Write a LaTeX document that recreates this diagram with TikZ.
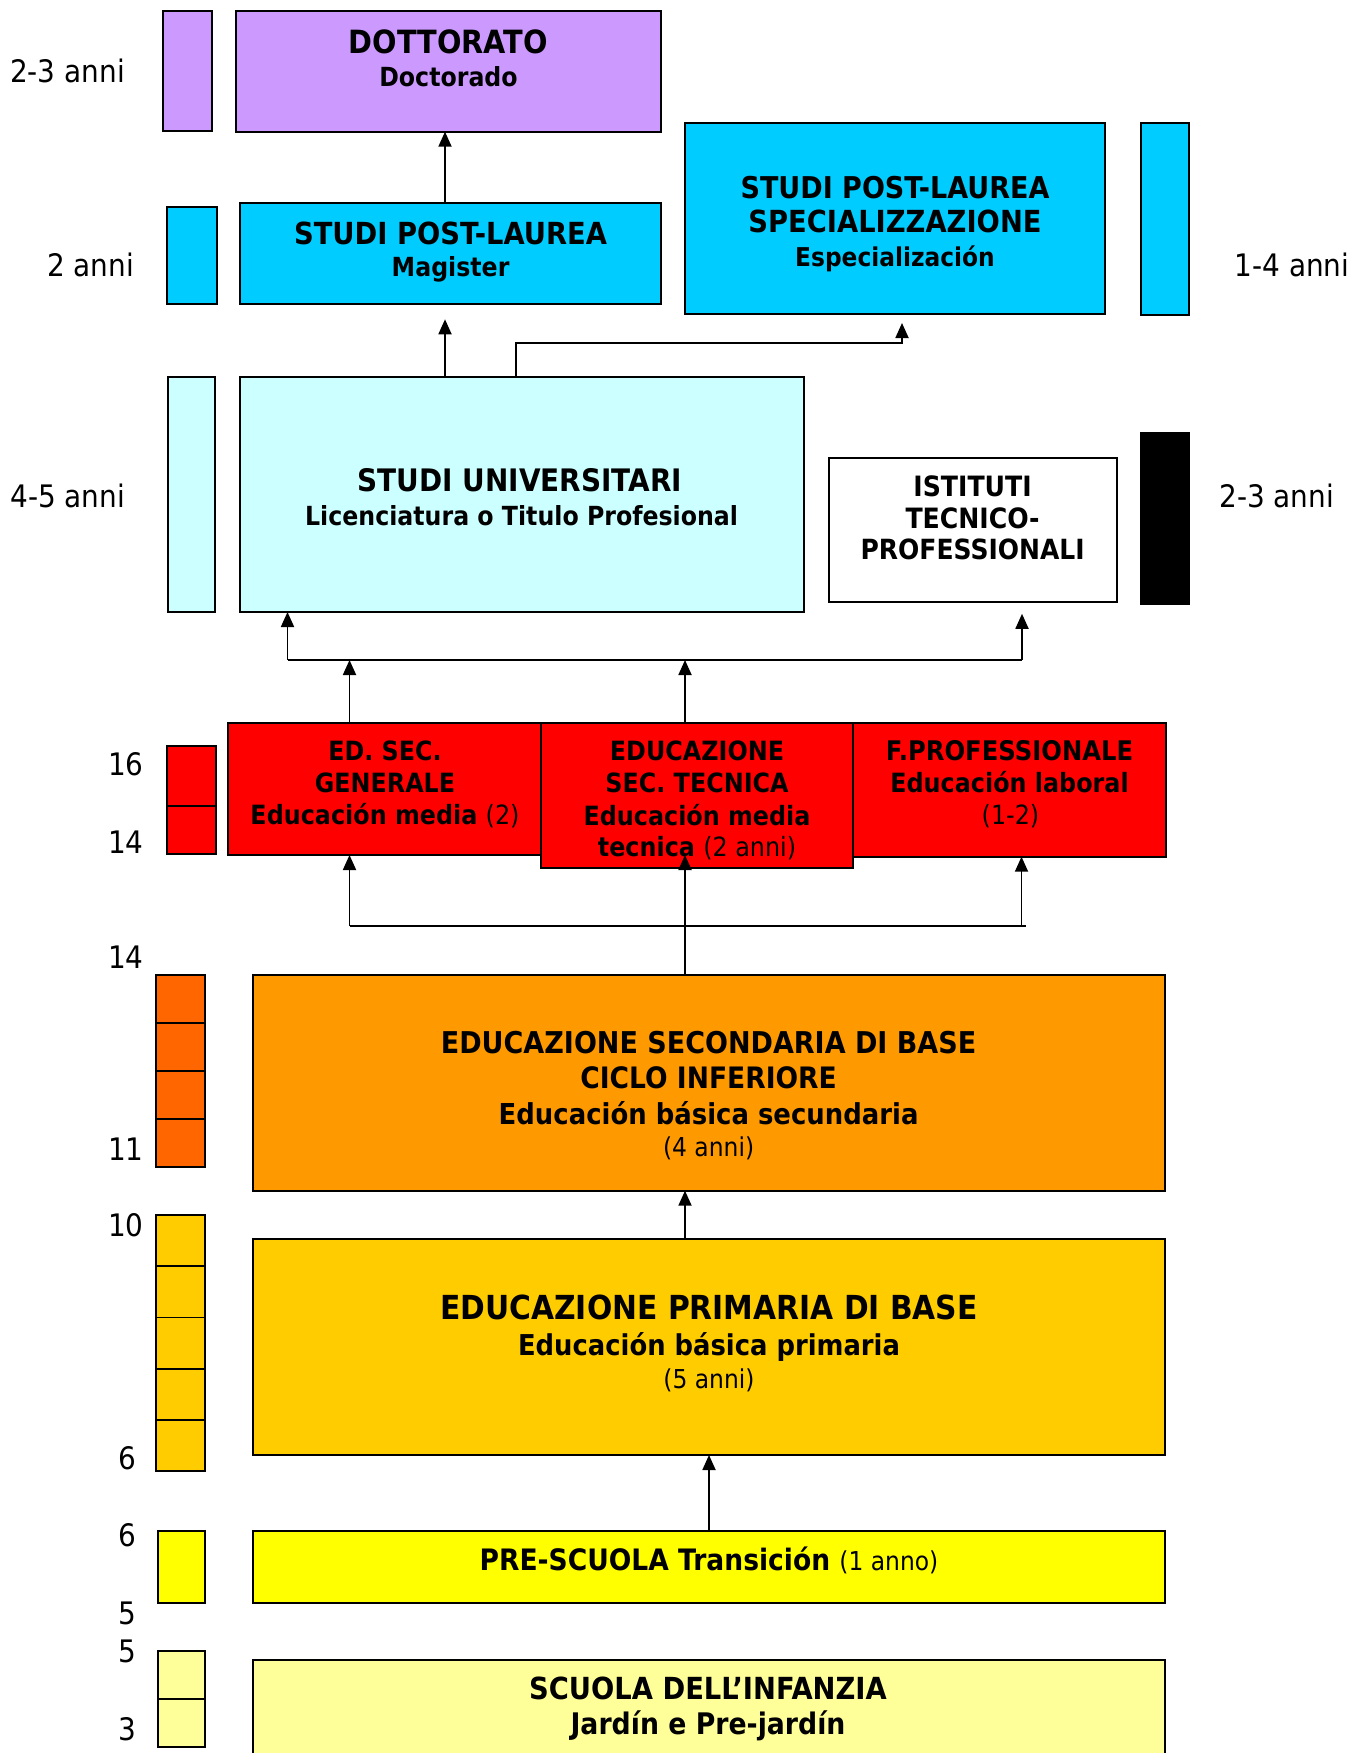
\documentclass[tikz,border=0pt]{standalone}
\usepackage{fontspec}
\setmainfont{DejaVu Sans}[FakeStretch=0.9]
\usetikzlibrary{arrows.meta,calc}
\definecolor{lav}{HTML}{CC99FF}
\definecolor{cyn}{HTML}{00CCFF}
\definecolor{lcyn}{HTML}{CCFFFF}
\definecolor{rd}{HTML}{FF0000}
\definecolor{obar}{HTML}{FF6600}
\definecolor{obox}{HTML}{FF9900}
\definecolor{gld}{HTML}{FFCC00}
\definecolor{ylw}{HTML}{FFFF00}
\definecolor{lylw}{HTML}{FFFF99}
\tikzset{
  boxst/.style={draw=black, line width=2pt, inner sep=0pt, outer sep=0pt},
  tl/.style={anchor=base, inner sep=0pt, outer sep=0pt},
  arr/.style={line width=1.8pt, -{Triangle[length=15pt,width=13pt]}},
  conn/.style={line width=1.8pt},
  cellline/.style={line width=1.8pt}
}
\newcommand\bx[6]{\node[boxst, fill=#6, minimum width={#4-#2}, minimum height={#5-#3}] (#1) at ({(#2+#4)/2},{(#3+#5)/2}) {};}
\newcommand\tl[5]{\node[tl, font=\fontsize{#4}{#4}\selectfont] (#1) at (#2,#3) {#5};}
\newcommand\cells[2]{\foreach \k in {1,...,#2} {\pgfmathsetmacro\fr{\k/(#2+1)}\draw[cellline] ($(#1.north west)!\fr!(#1.south west)$) -- ($(#1.north east)!\fr!(#1.south east)$);}}
\begin{document}
\begin{tikzpicture}[x=1pt,y=-1pt]
\useasboundingbox[fill=white] (0,0) rectangle (1369,1753);
% boxes
\bx{dbar}{163}{11}{212}{131}{lav}
\bx{dott}{236}{11}{661}{131.7}{lav}
\bx{mbar}{167.4}{207.3}{216.5}{304}{cyn}
\bx{mag}{240.2}{203.3}{661}{304.3}{cyn}
\bx{spec}{685}{122.7}{1105.4}{314}{cyn}
\bx{sbar}{1140.6}{122.7}{1189}{314.5}{cyn}
\bx{ubar}{167.6}{376.7}{215}{612.3}{lcyn}
\bx{univ}{240}{376.7}{804}{612}{lcyn}
\bx{isti}{829.4}{458.3}{1117.4}{602.3}{white}
\bx{kbar}{1141}{433.3}{1189}{604}{black}
\bx{rbar}{166.6}{746}{215.7}{853.7}{rd}
\draw[cellline] ($(rbar.north west)!0.555!(rbar.south west)$) -- ($(rbar.north east)!0.555!(rbar.south east)$);
\bx{ed1}{228.4}{723.3}{540.5}{855}{rd}
\bx{ed3}{852.7}{723.3}{1166.3}{856.7}{rd}
\bx{ed2}{540.5}{723.3}{852.7}{868}{rd}
\bx{obr}{156}{975}{205}{1167}{obar}
\cells{obr}{3}
\bx{sec}{253}{975}{1165}{1190.7}{obox}
\bx{pbar}{156}{1215}{205}{1471}{gld}
\cells{pbar}{4}
\bx{prim}{253}{1239}{1165}{1455}{gld}
\bx{prebar}{157.5}{1530.7}{205.2}{1602.7}{ylw}
\bx{pre}{253}{1530.7}{1165}{1603.3}{ylw}
\bx{kibar}{157.5}{1651}{205.2}{1746.7}{lylw}
\cells{kibar}{1}
\bx{inf}{253}{1660}{1165}{1800}{lylw}
% texts
\tl{d1}{448.5}{54}{32}{\bfseries DOTTORATO}
\tl{d2}{448.5}{86.7}{26.3}{\bfseries Doctorado}
\tl{m1}{450.6}{244.3}{30.4}{\bfseries STUDI POST-LAUREA}
\tl{m2}{450.6}{276}{26.3}{\bfseries Magister}
\tl{s1}{895}{198.3}{30}{\bfseries STUDI POST-LAUREA}
\tl{s2}{895}{232.7}{30.4}{\bfseries SPECIALIZZAZIONE}
\tl{s3}{895}{266}{25.9}{\bfseries Especialización}
\tl{u1}{520}{491.7}{31}{\bfseries STUDI UNIVERSITARI}
\tl{u2}{521.6}{525}{26.3}{\bfseries Licenciatura o Titulo Profesional}
\tl{i1}{972.6}{496}{28}{\bfseries ISTITUTI}
\tl{i2}{972.6}{528.3}{28}{\bfseries TECNICO-}
\tl{i3}{972.6}{559.3}{27.8}{\bfseries PROFESSIONALI}
\tl{r11}{385}{760.7}{26.5}{\bfseries ED. SEC.}
\tl{r12}{385}{792.7}{26.5}{\bfseries GENERALE}
\tl{r13}{385}{824.3}{26.5}{\bfseries Educación media \mdseries(2)}
\tl{r21}{697}{760.7}{26.5}{\bfseries EDUCAZIONE}
\tl{r22}{697}{792.7}{26.5}{\bfseries SEC. TECNICA}
\tl{r23}{697}{825.3}{26.5}{\bfseries Educación media}
\tl{r24}{697}{856.7}{26.5}{\bfseries tecnica \mdseries(2 anni)}
\tl{r31}{1009.5}{760.7}{27}{\bfseries F.PROFESSIONALE}
\tl{r32}{1009.5}{792.7}{26.5}{\bfseries Educación laboral}
\tl{r33}{1010.5}{824.3}{26.5}{(1-2)}
\tl{o1}{708.6}{1053.3}{30}{\bfseries EDUCAZIONE SECONDARIA DI BASE}
\tl{o2}{708.6}{1088.3}{29.5}{\bfseries CICLO INFERIORE}
\tl{o3}{708.6}{1124.3}{28.8}{\bfseries Educación básica secundaria}
\tl{o4}{708.6}{1156.7}{26}{(4 anni)}
\tl{p1}{709}{1319.3}{33.1}{\bfseries EDUCAZIONE PRIMARIA DI BASE}
\tl{p2}{709}{1355}{28.7}{\bfseries Educación básica primaria}
\tl{p3}{709}{1388.3}{26}{(5 anni)}
\tl{ps}{709}{1570}{29.5}{\bfseries PRE-SCUOLA Transición {\fontsize{26}{26}\selectfont\mdseries (1 anno)}}
\tl{k1}{708}{1699.3}{30.4}{\bfseries SCUOLA DELL’INFANZIA}
\tl{k2}{708}{1734}{29.7}{\bfseries Jardín e Pre-jardín}
% side labels
\tl{l1}{67.5}{82.7}{31}{2-3 anni}
\tl{l2}{90.7}{276}{31}{2 anni}
\tl{l3}{1292}{276.7}{31}{1-4 anni}
\tl{l4}{67.7}{507.3}{31}{4-5 anni}
\tl{l5}{1276.8}{507.3}{31}{2-3 anni}
\tl{n16}{126}{775}{31}{16}
\tl{n14a}{126}{853.3}{31}{14}
\tl{n14b}{126}{968.3}{31}{14}
\tl{n11}{126}{1160}{31}{11}
\tl{n10}{126}{1236.7}{31}{10}
\tl{n6a}{127}{1469}{31}{6}
\tl{n6b}{127}{1546.7}{31}{6}
\tl{n5a}{127}{1624}{31}{5}
\tl{n5b}{127}{1662.3}{31}{5}
\tl{n3}{127}{1740}{31}{3}
% connectors
\coordinate (xa) at (445,0);
\coordinate (jb) at (516,343);
\coordinate (jc) at (902,343);
\coordinate (hl) at (287.5,660);
\coordinate (hr) at (1022,660);
\coordinate (xd) at (349.5,0);
\coordinate (xe) at (685,0);
\coordinate (bl) at (349.5,926);
\coordinate (br) at (1026,926);
\coordinate (xf) at (1021.5,0);
\draw[arr] (xa |- mag.north) -- (xa |- dott.south);
\draw[arr, shorten >=15pt] (xa |- univ.north) -- (xa |- mag.south);
\draw[arr, shorten >=9pt] (jb |- univ.north) -- (jb) -- (jc) -- (jc |- spec.south);
\draw[conn] (hl) -- (hr);
\draw[arr] (hl) -- (hl |- univ.south);
\draw[arr, shorten >=11.5pt] (hr) -- (hr |- isti.south);
\draw[arr] (xd |- ed1.north) -- (xd |- hl);
\draw[arr] (xe |- ed2.north) -- (xe |- hl);
\draw[conn] (bl) -- (br);
\draw[arr] (bl) -- (bl |- ed1.south);
\draw[arr] (xf |- bl) -- (xf |- ed3.south);
\draw[arr] (xe |- sec.north) -- (xe |- ed1.south);
\draw[arr] (xe |- prim.north) -- (xe |- sec.south);
\draw[arr] (pre.north) -- (prim.south);
\end{tikzpicture}
\end{document}
